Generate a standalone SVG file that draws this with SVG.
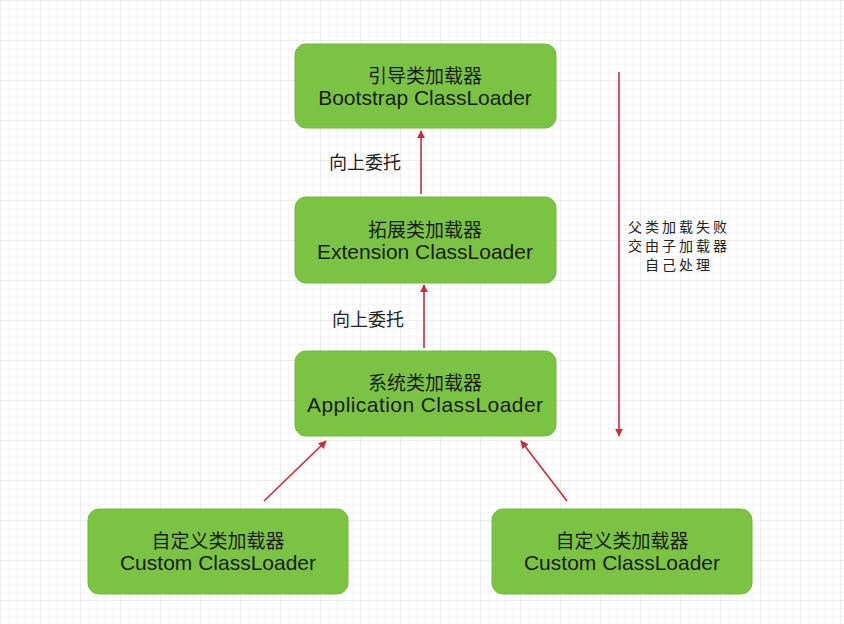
<svg xmlns="http://www.w3.org/2000/svg" width="844" height="624" viewBox="0 0 844 624">
<defs>
<pattern id="minor" width="8" height="8" patternUnits="userSpaceOnUse">
<path d="M8 0H0V8" fill="none" stroke="#efefef" stroke-width="1"/>
</pattern>
<pattern id="major" width="40" height="40" patternUnits="userSpaceOnUse">
<rect width="40" height="40" fill="url(#minor)"/>
<path d="M40 0H0V40" fill="none" stroke="#e2e2e2" stroke-width="1"/>
</pattern>
<marker id="ah" viewBox="0 0 10 10" refX="9" refY="5" markerWidth="5" markerHeight="5" orient="auto" markerUnits="strokeWidth">
<path d="M0 0L10 5L0 10z" fill="#d2283c"/>
</marker>
<style>
.box{fill:#7bc443;stroke:#72b83e;stroke-width:1}
.zh{font-family:"Noto Sans CJK SC",sans-serif;font-size:19px;fill:#1b1b1b;text-anchor:middle}
.en{font-family:"Liberation Sans","Noto Sans CJK SC",sans-serif;font-size:21px;fill:#1b1b1b;text-anchor:middle}
.lbl{font-family:"Noto Sans CJK SC",sans-serif;font-size:18px;fill:#222;text-anchor:middle}
.side{font-family:"Noto Sans CJK SC",sans-serif;font-size:14px;letter-spacing:3px;fill:#222;text-anchor:middle}
.arr{stroke:#d2283c;stroke-width:1.6;fill:none;marker-end:url(#ah)}
</style>
</defs>
<rect width="844" height="624" fill="#fff"/>
<rect width="844" height="624" fill="url(#major)"/>
<g id="bootstrap">
<rect class="box" x="295" y="44" width="261" height="84" rx="11"/>
<text class="zh" x="425" y="83">引导类加载器</text>
<text class="en" x="425" y="105">Bootstrap ClassLoader</text>
</g>
<g id="extension">
<rect class="box" x="295" y="197" width="261" height="86" rx="11"/>
<text class="zh" x="425" y="237">拓展类加载器</text>
<text class="en" x="425" y="259">Extension ClassLoader</text>
</g>
<g id="application">
<rect class="box" x="295" y="351" width="261" height="85" rx="11"/>
<text class="zh" x="425" y="390">系统类加载器</text>
<text class="en" x="425" y="412" textLength="236" lengthAdjust="spacing">Application ClassLoader</text>
</g>
<g id="custom1">
<rect class="box" x="88" y="509" width="260" height="85" rx="11"/>
<text class="zh" x="218" y="548">自定义类加载器</text>
<text class="en" x="218" y="570">Custom ClassLoader</text>
</g>
<g id="custom2">
<rect class="box" x="492" y="509" width="260" height="85" rx="11"/>
<text class="zh" x="622" y="548">自定义类加载器</text>
<text class="en" x="622" y="570">Custom ClassLoader</text>
</g>
<g id="connectors">
<line class="arr" x1="421" y1="194" x2="421" y2="131"/>
<line class="arr" x1="424" y1="348" x2="424" y2="285"/>
<line class="arr" x1="264" y1="501" x2="326" y2="441"/>
<line class="arr" x1="567" y1="501" x2="521" y2="441"/>
<line class="arr" x1="619" y1="72" x2="619" y2="436"/>
<text class="lbl" x="365" y="169">向上委托</text>
<text class="lbl" x="368" y="326">向上委托</text>
<text class="side" x="679" y="232">父类加载失败</text>
<text class="side" x="679" y="251">交由子加载器</text>
<text class="side" x="679" y="270">自己处理</text>
</g>
</svg>
